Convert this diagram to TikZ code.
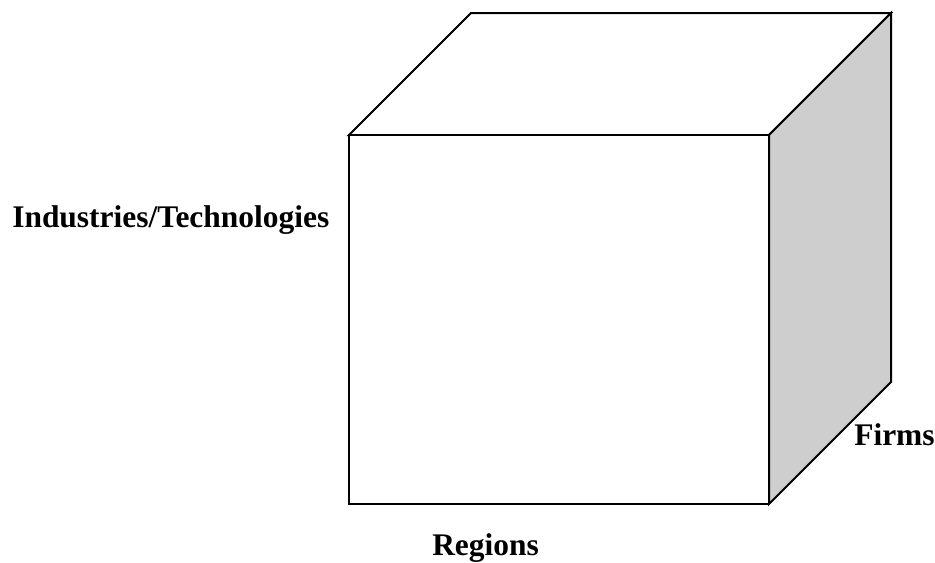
\documentclass[tikz,border=0pt]{standalone}
\usepackage{fontspec}
\setmainfont{Liberation Serif}
\definecolor{sidegray}{RGB}{206,206,206}
\begin{document}
\begin{tikzpicture}[x=0.75pt,y=-0.75pt,
  edge/.style={draw=black,line width=1.5pt,line join=miter},
  lbl/.style={inner sep=0pt,font=\fontsize{23.6}{27}\selectfont\bfseries}]
\useasboundingbox (0,0) rectangle (935,562);
% front face corners
\coordinate (ftl) at (349,135);
\coordinate (ftr) at (769,135);
\coordinate (fbr) at (769,504);
\coordinate (fbl) at (349,504);
% back corners
\coordinate (btl) at (471,13);
\coordinate (btr) at (891,13);
\coordinate (bbr) at (891,382);
% top face
\path[edge,fill=white] (ftl) -- (btl) -- (btr) -- (ftr) -- cycle;
% right face
\path[edge,fill=sidegray] (ftr) -- (btr) -- (bbr) -- (fbr) -- cycle;
% front face
\path[edge,fill=white] (ftl) rectangle (fbr);
% labels
\node[lbl,anchor=base west] (ind) at (12,227) {Industries/Technologies};
\node[lbl,anchor=base west] (reg) at (432,555) {Regions};
\node[lbl,anchor=base west] (firms) at (854,445) {Firms};
\end{tikzpicture}
\end{document}
